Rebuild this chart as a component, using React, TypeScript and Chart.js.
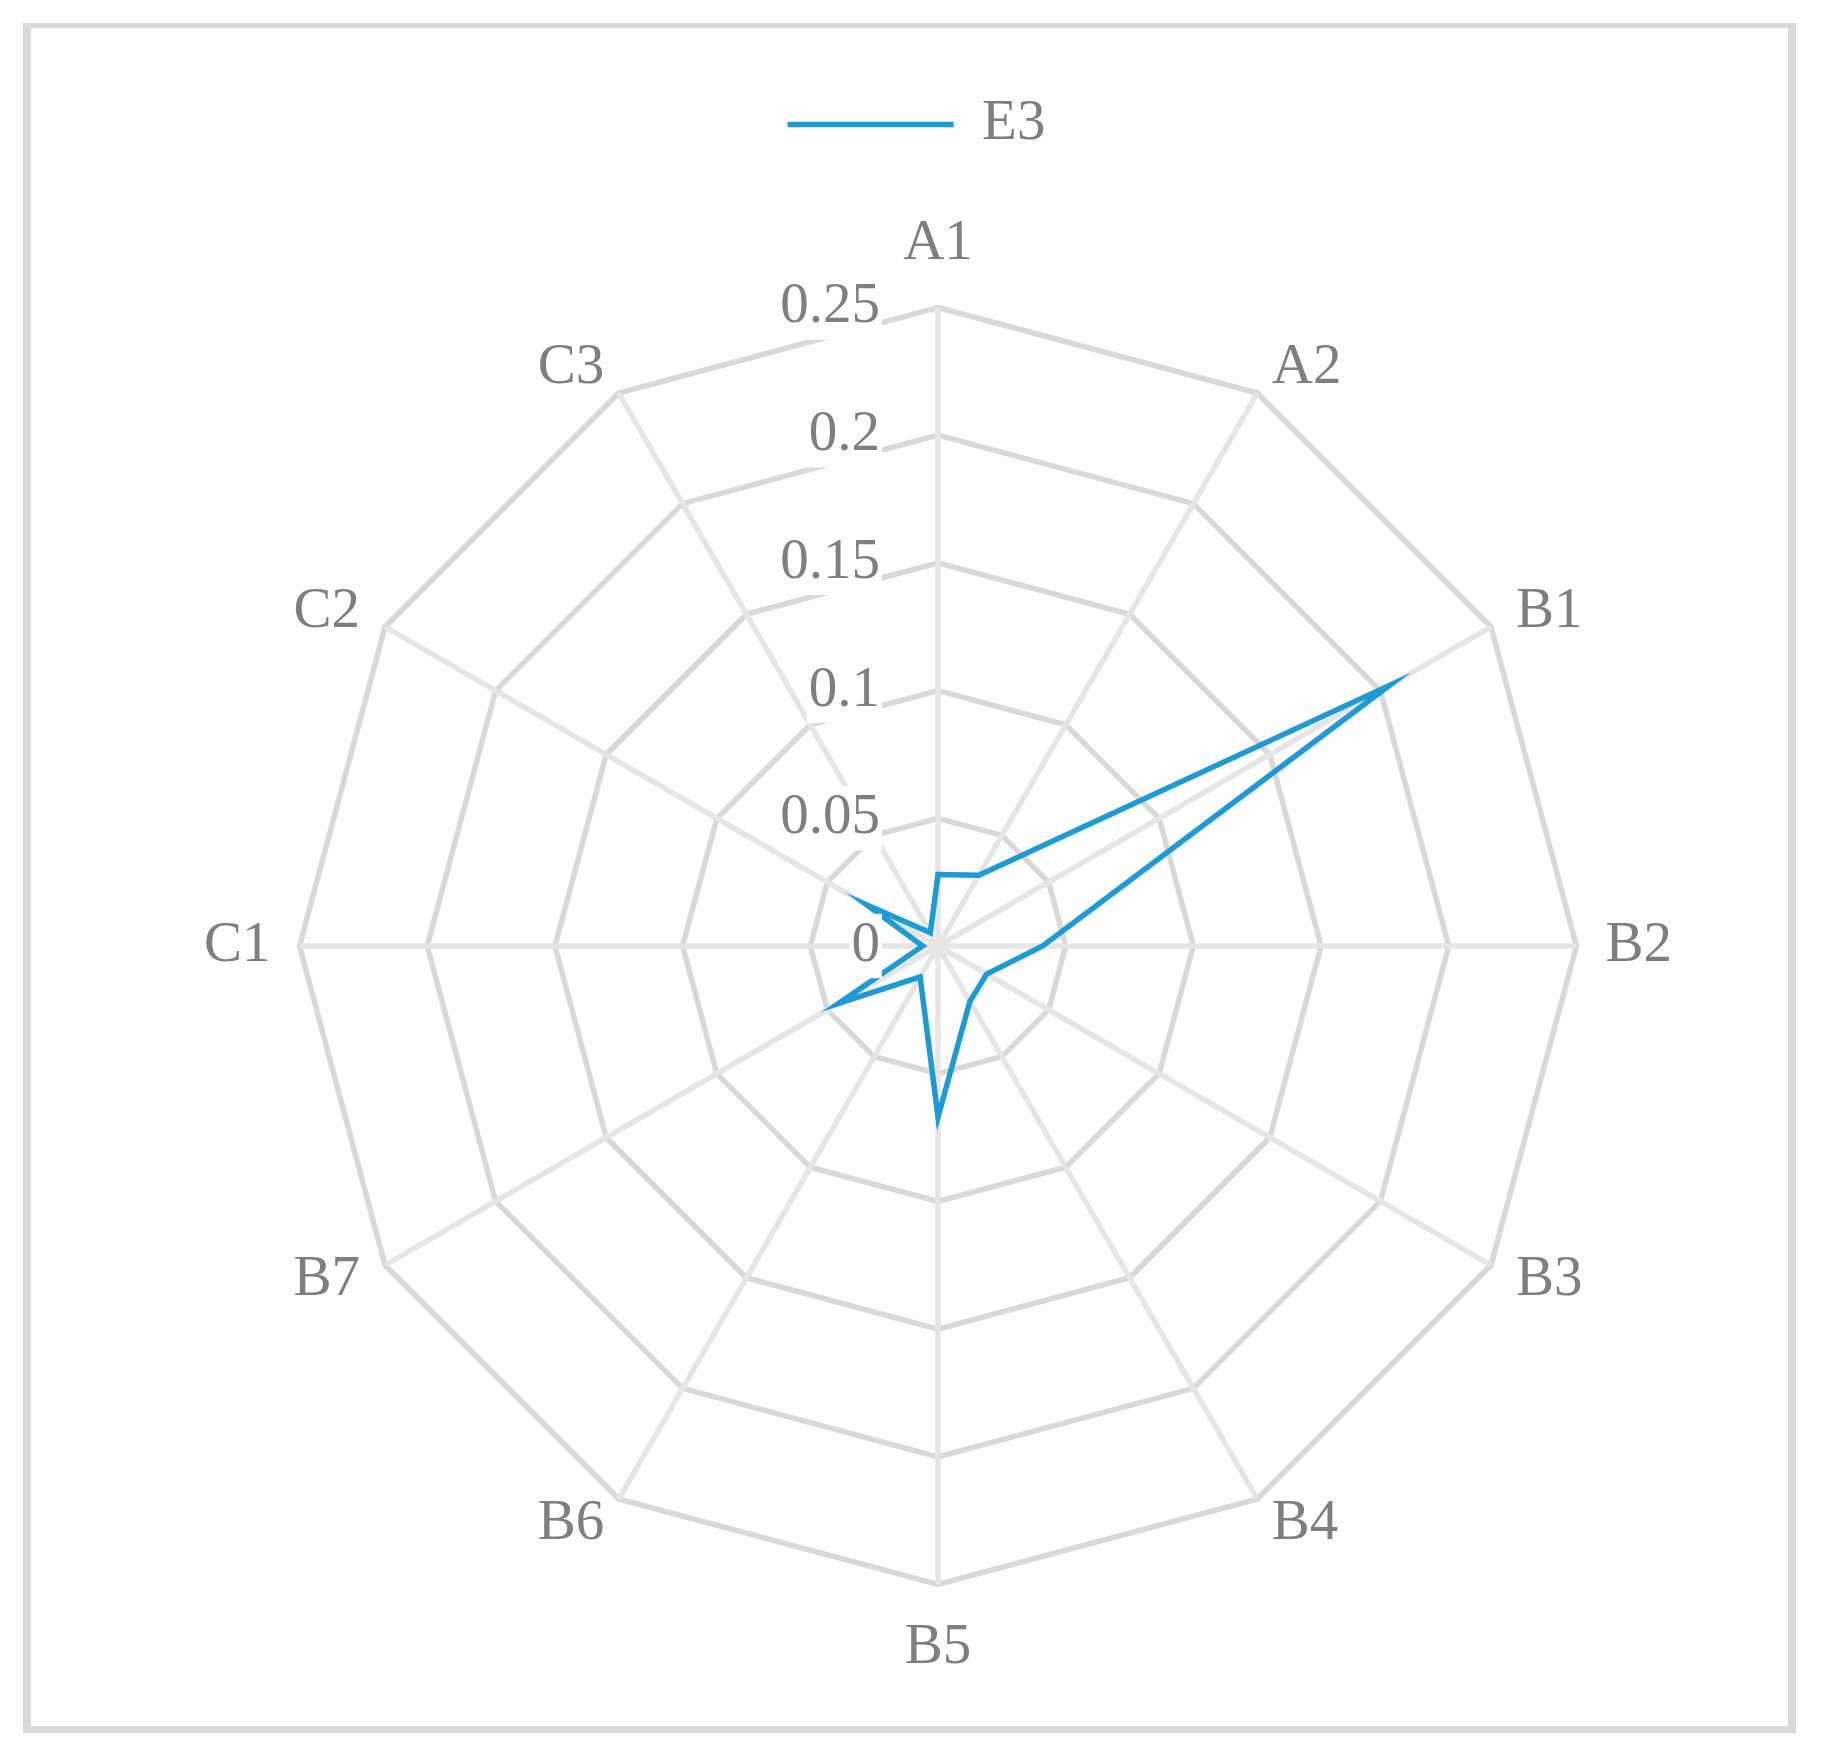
import React, { useEffect, useRef } from 'react';
import { Chart, registerables } from 'chart.js';

Chart.register(...registerables);

const CATEGORIES = ['A1', 'A2', 'B1', 'B2', 'B3', 'B4', 'B5', 'B6', 'B7', 'C1', 'C2', 'C3'];
const SERIES_NAME = 'E3';
const E3_VALUES = [0.028, 0.032, 0.204, 0.041, 0.022, 0.025, 0.067, 0.014, 0.045, 0.006, 0.032, 0.006];
const TICK_VALUES = [0, 0.05, 0.1, 0.15, 0.2, 0.25];
const TICK_LABELS = ['0', '0.05', '0.1', '0.15', '0.2', '0.25'];

const FONT = '"Liberation Serif", "Times New Roman", Times, serif';
const FONT_SIZE = 57;
const TEXT_COLOR = '#7f7f7f';
const LINE_COLOR = '#1c9bd7';
const LABEL_PAD = 29;

const legendShift = {
  id: 'legendShift',
  afterLayout(chart: any) {
    const lg = chart.legend;
    if (!lg) return;
    const dx = 916.5 - (lg.left + lg.right) / 2;
    lg.left += dx;
    lg.right += dx;
    lg.top += 4;
    lg.bottom += 4;
  },
};

const labelsPlugin = {
  id: 'customLabels',
  afterDatasetsDraw(chart: any) {
    const s = chart.scales.r;
    const ctx = chart.ctx;
    const lh = FONT_SIZE * 1.2;
    ctx.save();
    ctx.font = `${FONT_SIZE}px ${FONT}`;
    ctx.textBaseline = 'middle';

    // category labels
    const dist = s.drawingArea + LABEL_PAD;
    const n = CATEGORIES.length;
    CATEGORIES.forEach((lab, i) => {
      const p = s.getPointPosition(i, dist);
      const deg = Math.round((i * 360) / n) % 360;
      let y = p.y;
      let align: CanvasTextAlign = 'center';
      if (deg === 0) y = p.y - lh / 2;
      else if (deg === 180) y = p.y + lh / 2;
      else if (deg < 180) align = 'left';
      else align = 'right';
      ctx.textAlign = align;
      ctx.fillStyle = TEXT_COLOR;
      ctx.fillText(lab, p.x, y);
    });

    // value tick labels with white backdrop
    ctx.textAlign = 'right';
    TICK_VALUES.forEach((v, i) => {
      const y = s.yCenter - s.getDistanceFromCenterForValue(v);
      const x = s.xCenter - 58;
      const w = ctx.measureText(TICK_LABELS[i]).width;
      ctx.fillStyle = '#ffffff';
      ctx.fillRect(x - w - 2, y - lh / 2 + 2, w + 4, lh - 4);
      ctx.fillStyle = TEXT_COLOR;
      ctx.fillText(TICK_LABELS[i], x, y);
    });
    ctx.restore();
  },
};

export default function App() {
  const ref = useRef<HTMLCanvasElement | null>(null);

  useEffect(() => {
    if (!ref.current) return;
    const chart = new Chart(ref.current, {
      type: 'radar',
      data: {
        labels: CATEGORIES,
        datasets: [
          {
            label: SERIES_NAME,
            data: E3_VALUES,
            borderColor: LINE_COLOR,
            backgroundColor: LINE_COLOR,
            borderWidth: 5.5,
            fill: false,
            pointRadius: 0,
            pointHoverRadius: 0,
            tension: 0,
          },
        ],
      },
      options: {
        responsive: false,
        animation: false,
        devicePixelRatio: 1,
        layout: { padding: { top: 82, left: 204, right: 149, bottom: 19 } },
        plugins: {
          legend: {
            display: true,
            position: 'top',
            labels: {
              usePointStyle: true,
              pointStyle: 'line',
              pointStyleWidth: 166,
              color: TEXT_COLOR,
              font: { family: FONT, size: FONT_SIZE },
              padding: 10,
            },
          },
          tooltip: { enabled: false },
        },
        scales: {
          r: {
            min: 0,
            max: 0.25,
            ticks: { display: false, stepSize: 0.05 },
            afterBuildTicks: (scale: any) => {
              scale.ticks = TICK_VALUES.map((v) => ({ value: v }));
            },
            grid: { color: '#d9d9d9', lineWidth: 5.5 },
            angleLines: { color: '#e6e6e6', lineWidth: 5.5 },
            pointLabels: {
              display: true,
              color: 'rgba(0,0,0,0)',
              font: { family: FONT, size: FONT_SIZE },
              padding: LABEL_PAD,
            },
          },
        },
      } as any,
      plugins: [legendShift, labelsPlugin],
    });
    return () => chart.destroy();
  }, []);

  return (
    <div style={{ position: 'absolute', left: 0, top: 0, width: 1822, height: 1753, background: '#ffffff' }}>
      <div
        style={{
          position: 'absolute',
          left: 23,
          top: 23,
          width: 1773,
          height: 1710,
          boxSizing: 'border-box',
          borderStyle: 'solid',
          borderColor: '#d9d9d9',
          borderWidth: '5px 8px 7px 8px',
        }}
      />
      <canvas ref={ref} width={1822} height={1753} style={{ position: 'absolute', left: 0, top: 0, display: 'block' }} />
    </div>
  );
}
